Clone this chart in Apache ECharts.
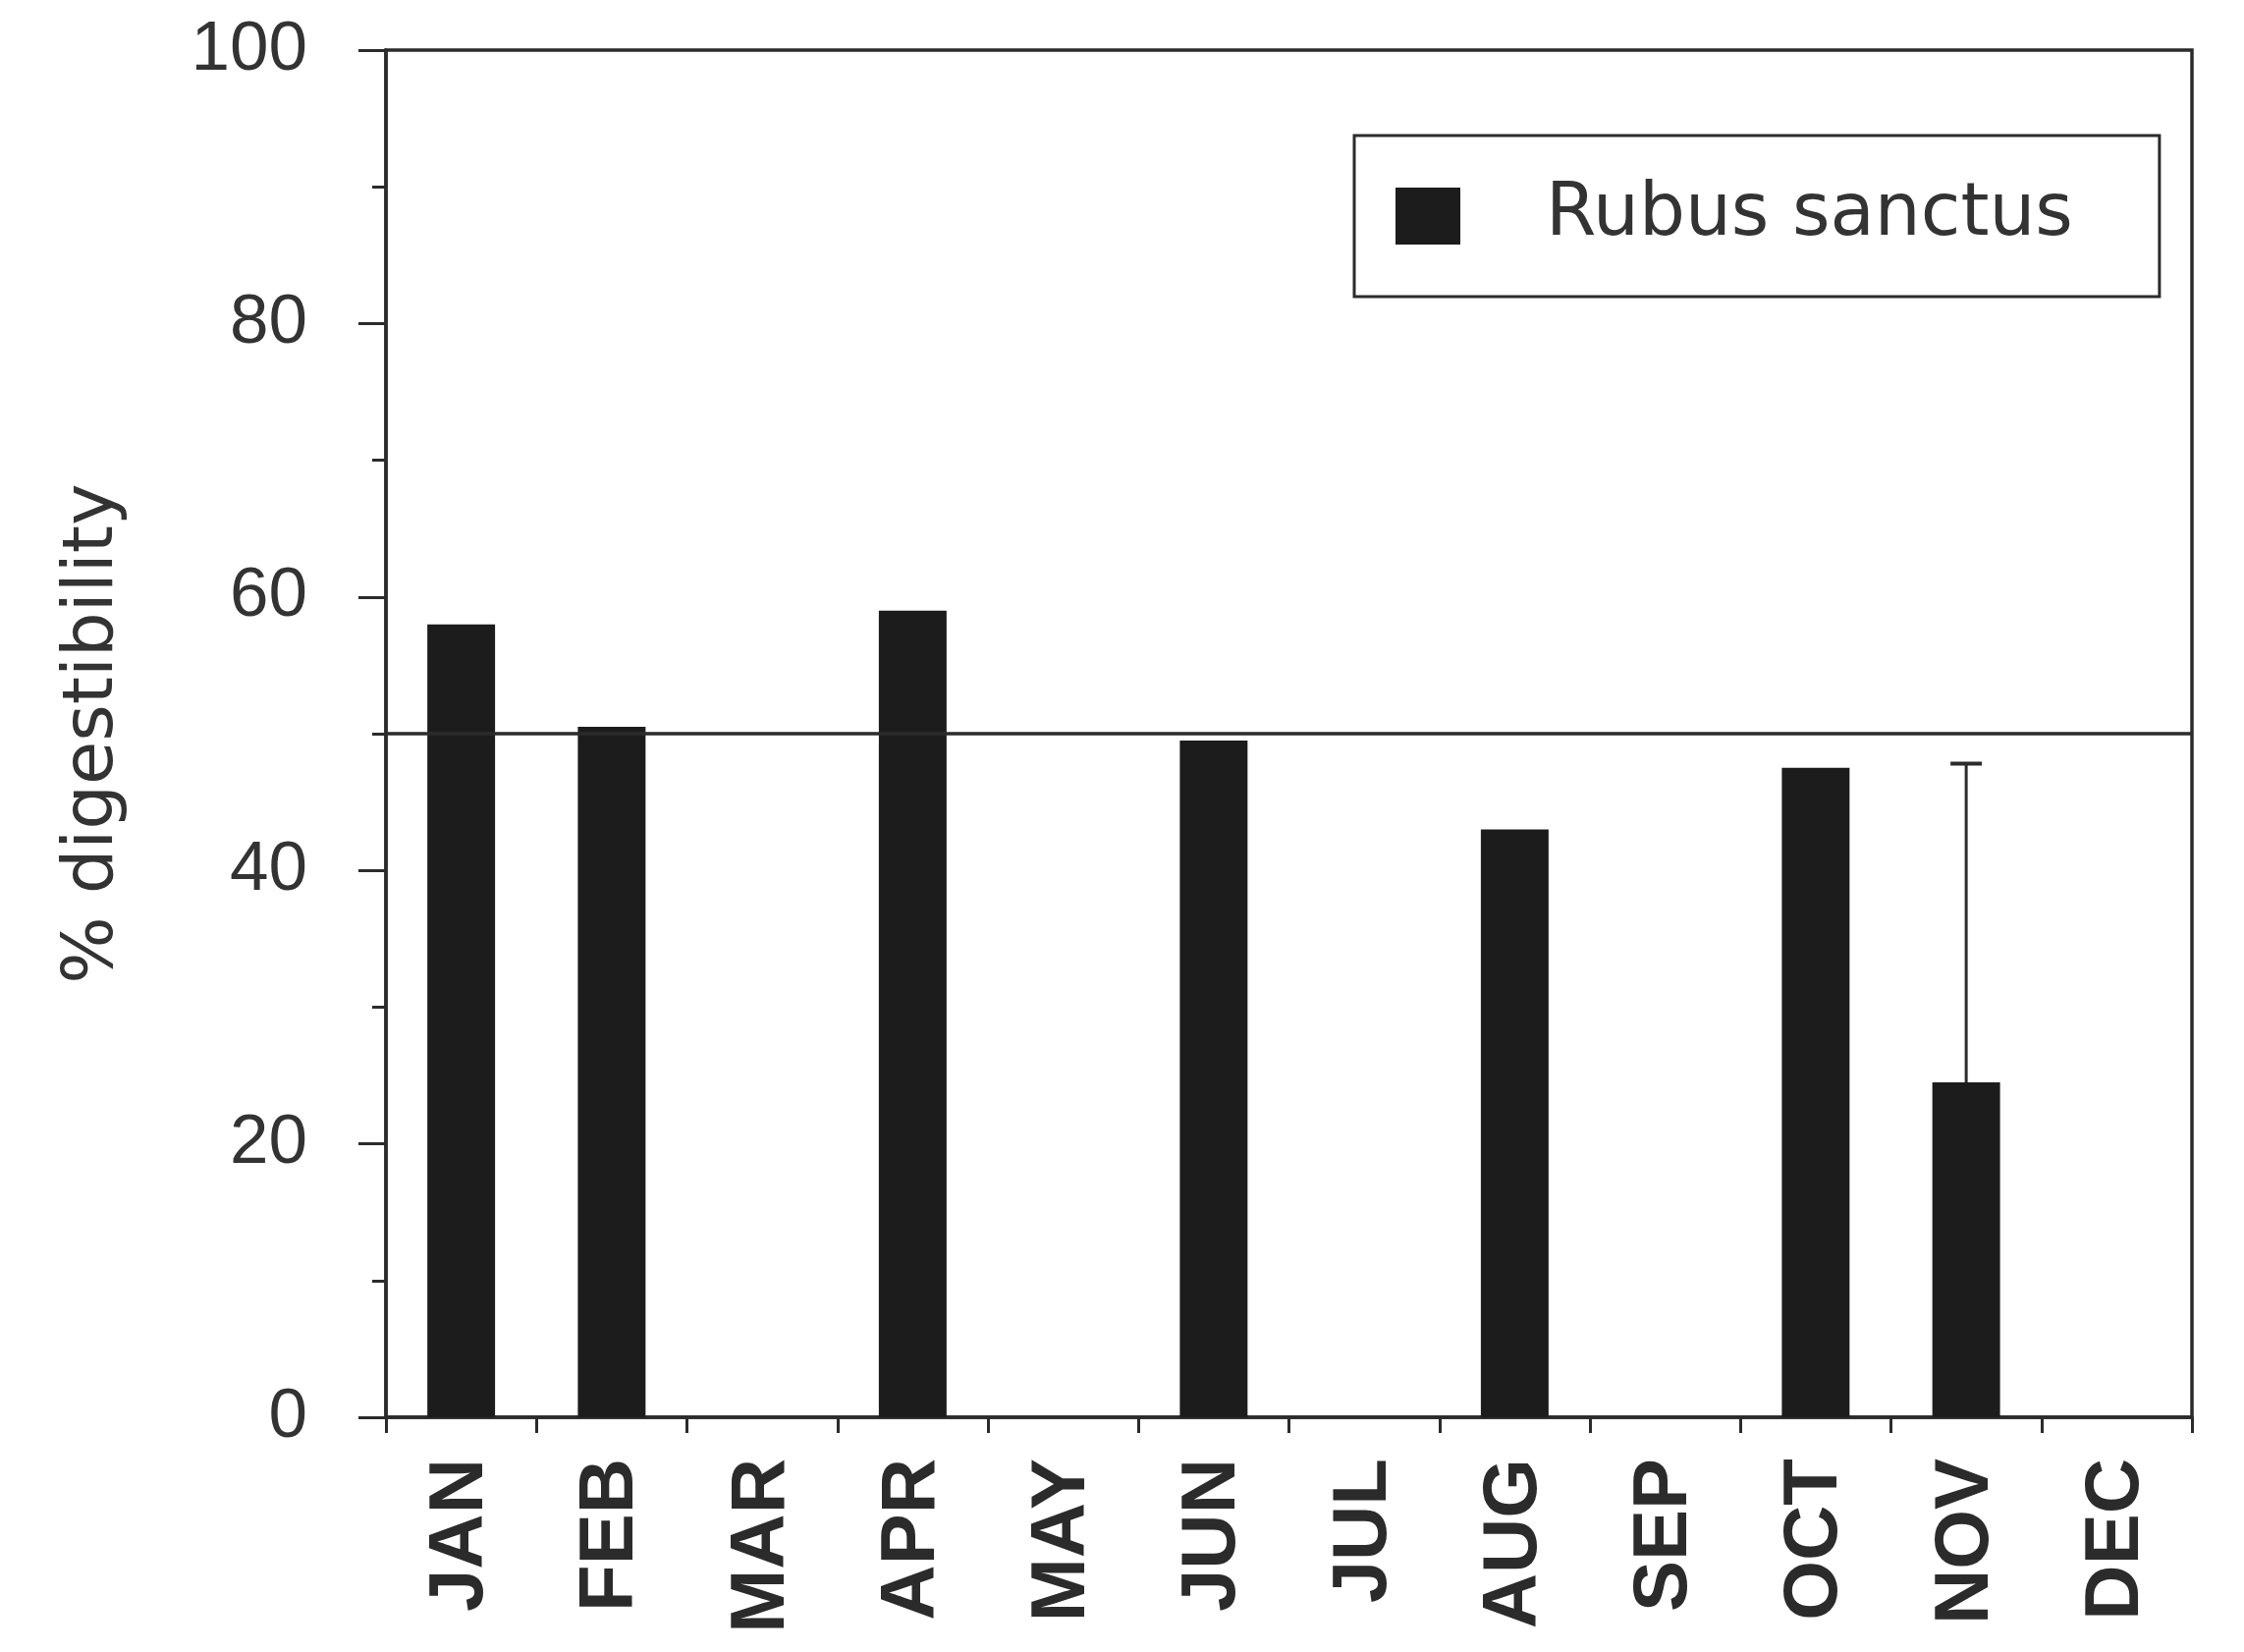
<!DOCTYPE html>
<html>
<head>
<meta charset="utf-8">
<script src="https://cdn.jsdelivr.net/npm/echarts@6/dist/echarts.min.js"></script>
<style>
html,body{margin:0;padding:0;background:#fff;}
#chart{width:2285px;height:1682px;}
</style>
</head>
<body>
<div id="chart"></div>
<script>
const months = ['JAN','FEB','MAR','APR','MAY','JUN','JUL','AUG','SEP','OCT','NOV','DEC'];
const digestibility = [58, 50.5, null, 59, null, 49.5, null, 43, null, 47.5, 24.5, null];
const errorUpper = [null, null, null, null, null, null, null, null, null, null, 47.8, null];
const referenceLevel = 50;
const yMin = 0, yMax = 100, yStep = 20;
const seriesName = 'Rubus sanctus';
const yAxisTitle = '% digestibility';

const ink = '#2b2b2b';
const errData = [];
errorUpper.forEach(function (v, i) {
  if (v != null) errData.push([i, digestibility[i], v]);
});

const chart = echarts.init(document.getElementById('chart'));
chart.setOption({
  animation: false,
  backgroundColor: '#ffffff',
  grid: {
    left: 393, right: 53, top: 51, bottom: 239,
    show: true, borderColor: ink, borderWidth: 3.5, backgroundColor: 'transparent'
  },
  legend: {
    left: 1379, top: 138,
    orient: 'horizontal',
    padding: [45, 88, 45, 42],
    borderColor: ink, borderWidth: 3,
    itemWidth: 66, itemHeight: 58,
    icon: 'rect',
    textStyle: { fontFamily: 'DejaVu Sans', fontSize: 74, color: '#333', padding: [0, 0, 0, 82] },
    data: [seriesName]
  },
  xAxis: {
    type: 'category',
    data: months,
    boundaryGap: true,
    axisLine: { show: true, lineStyle: { color: ink, width: 3.5 } },
    axisTick: { show: true, interval: 0, length: 16, lineStyle: { color: ink, width: 3 } },
    axisLabel: {
      interval: 0, rotate: 90, margin: 42,
      fontFamily: 'Liberation Sans', fontWeight: 'bold', fontSize: 78, color: ink
    },
    splitLine: { show: false }
  },
  yAxis: {
    type: 'value',
    min: yMin, max: yMax, interval: yStep,
    name: yAxisTitle,
    nameLocation: 'middle',
    nameGap: 262,
    nameTextStyle: { fontFamily: 'DejaVu Sans', fontSize: 72, color: '#333' },
    axisLine: { show: true, lineStyle: { color: ink, width: 3.5 } },
    axisTick: { show: true, length: 28, lineStyle: { color: ink, width: 3 } },
    minorTick: { show: true, splitNumber: 2, length: 14, lineStyle: { color: ink, width: 3 } },
    axisLabel: { margin: 80, fontFamily: 'Liberation Sans', fontSize: 71, color: '#333' },
    splitLine: { show: false },
    minorSplitLine: { show: false }
  },
  series: [
    {
      name: seriesName,
      type: 'bar',
      data: digestibility,
      barWidth: '45%',
      itemStyle: { color: '#1c1c1c' },
      markLine: {
        silent: true,
        symbol: 'none',
        label: { show: false },
        lineStyle: { color: ink, width: 3.5, type: 'solid' },
        data: [{ yAxis: referenceLevel }]
      }
    },
    {
      name: 'error',
      type: 'custom',
      data: errData,
      encode: { x: 0, y: [1, 2] },
      z: 5,
      renderItem: function (params, api) {
        const x = api.value(0);
        const lo = api.coord([x, api.value(1)]);
        const hi = api.coord([x, api.value(2)]);
        return {
          type: 'group',
          children: [
            { type: 'line', shape: { x1: hi[0], y1: hi[1], x2: lo[0], y2: lo[1] }, style: { stroke: ink, lineWidth: 3 } },
            { type: 'line', shape: { x1: hi[0] - 16, y1: hi[1], x2: hi[0] + 16, y2: hi[1] }, style: { stroke: ink, lineWidth: 4 } }
          ]
        };
      }
    }
  ]
});
</script>
</body>
</html>
